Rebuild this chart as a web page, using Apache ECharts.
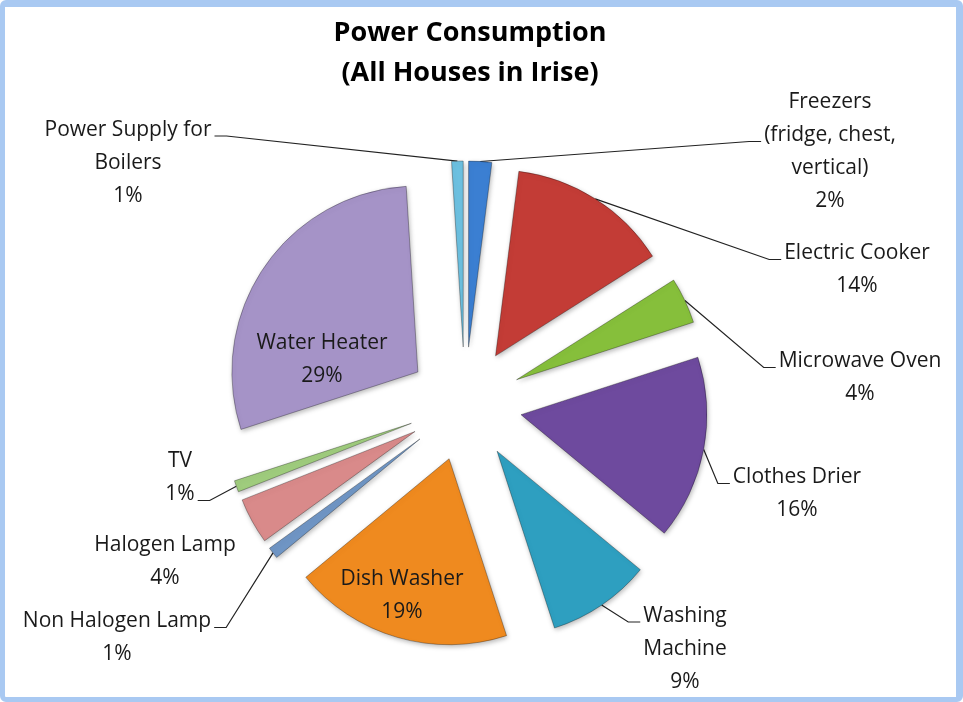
<!DOCTYPE html>
<html>
<head>
<meta charset="utf-8">
<script src="https://cdn.jsdelivr.net/npm/echarts@6/dist/echarts.min.js"></script>
<style>
html, body { margin: 0; padding: 0; background: #fff; }
#frame {
  position: absolute; left: 0; top: 0;
  width: 963px; height: 702px; box-sizing: border-box;
  border: 5px solid #a9c9f2; border-top-width: 7px; border-right-width: 7px; border-radius: 6px;
}
#chart { position: absolute; left: 0; top: 0; width: 963px; height: 702px; }
</style>
</head>
<body>
<div id="chart"></div>
<div id="frame"></div>
<script>
// categories, clockwise from 12 o'clock
const categories = [
  'Freezers\n(fridge, chest,\nvertical)',
  'Electric Cooker',
  'Microwave Oven',
  'Clothes Drier',
  'Washing\nMachine',
  'Dish Washer',
  'Non Halogen Lamp',
  'Halogen Lamp',
  'TV',
  'Water Heater',
  'Power Supply for\nBoilers'
]
const shares = [2, 14, 4, 16, 9, 19, 1, 4, 1, 29, 1]
const colors = ['#3b7fd2', '#c33c36', '#86bf3b', '#6e4a9e', '#2e9fc0', '#ef8a1f',
  '#6f95c4', '#d98a8a', '#9fcc7d', '#a593c7', '#6cc0e0']

// label text centre, by slice index
const labelPos = {
  0: [830, 152], 1: [857, 270], 2: [860, 378], 3: [797, 494], 4: [685, 649],
  5: [402, 596], 6: [117, 638], 7: [165, 562], 8: [180, 478], 9: [322, 360],
  10: [128, 163]
}
// leader line end: which side of the label and which text row
const lineEnd = {
  0: ['left', 1], 1: ['left', 0], 2: ['left', 0], 3: ['left', 0], 4: ['left', 0],
  6: ['right', 0], 8: ['right', 1], 10: ['right', 0]
}
const insideLabels = [5, 9]
const noLine = [7]

const pieCenter = [465, 404]
const pieRadius = 186
const explode = 57
const lineH = 33
const fontFamily = '"Open Sans", Lato, sans-serif'

let myChart = echarts.init(document.getElementById('chart'))

const total = shares.reduce((a, b) => a + b, 0)

// ? one pie per slice, each pulled out along its own middle angle
let series = []
let acc = 0
shares.forEach((v, k) => {
  const mid = (acc + v / 2) / total * Math.PI * 2
  acc += v
  const data = shares.map((w, i) => {
    const own = i === k
    return {
      name: categories[i],
      value: w,
      itemStyle: own
        ? { color: colors[i] }
        : { color: 'rgba(0,0,0,0)', borderWidth: 0, shadowBlur: 0, shadowOffsetX: 0, shadowOffsetY: 0 },
      label: own
        ? (insideLabels.includes(i) ? { show: true, position: 'inside' } : { show: true })
        : { show: false },
      labelLine: { show: own && !noLine.includes(i) && !insideLabels.includes(i) }
    }
  })
  series.push({
    type: 'pie',
    name: categories[k],
    center: [pieCenter[0] + explode * Math.sin(mid), pieCenter[1] - explode * Math.cos(mid)],
    radius: pieRadius,
    startAngle: 90,
    clockwise: true,
    animation: false,
    silent: true,
    avoidLabelOverlap: false,
    itemStyle: {
      borderColor: 'rgba(0,0,0,0.3)',
      borderWidth: 1,
      shadowColor: 'rgba(0,0,0,0.28)',
      shadowBlur: 5,
      shadowOffsetX: 1,
      shadowOffsetY: 2
    },
    label: {
      formatter: '{b}\n{c}%',
      fontFamily: fontFamily,
      fontSize: 21,
      lineHeight: lineH,
      color: '#1a1a1a',
      align: 'center'
    },
    labelLine: {
      lineStyle: { color: '#222', width: 1.2 },
      length: 10,
      length2: 10
    },
    emphasis: { disabled: true },
    labelLayout: function (params) {
      const i = params.dataIndex
      const p = labelPos[i]
      if (!p || i !== k) return {}
      let out = { x: p[0], y: p[1], align: 'center', verticalAlign: 'middle' }
      const le = lineEnd[i]
      const pts = params.labelLinePoints
      if (le && pts) {
        const w = params.labelRect.width
        const h = params.labelRect.height
        const top = p[1] - h / 2
        const y = top + le[1] * lineH + lineH / 2 + 6
        const x = le[0] === 'left' ? p[0] - w / 2 - 3 : p[0] + w / 2 + 3
        const elbow = le[0] === 'left' ? x - 12 : x + 12
        out.labelLinePoints = [pts[0], [elbow, y], [x, y]]
      }
      return out
    },
    data: data
  })
})

myChart.setOption({
  title: {
    text: 'Power Consumption\n(All Houses in Irise)',
    left: 465,
    textAlign: 'center',
    top: 8,
    textStyle: {
      fontFamily: fontFamily,
      fontSize: 27,
      fontWeight: 'bold',
      color: '#000',
      lineHeight: 40
    }
  },
  series: series
})

window.addEventListener('resize', () => {
  myChart.resize()
})
</script>
</body>
</html>
